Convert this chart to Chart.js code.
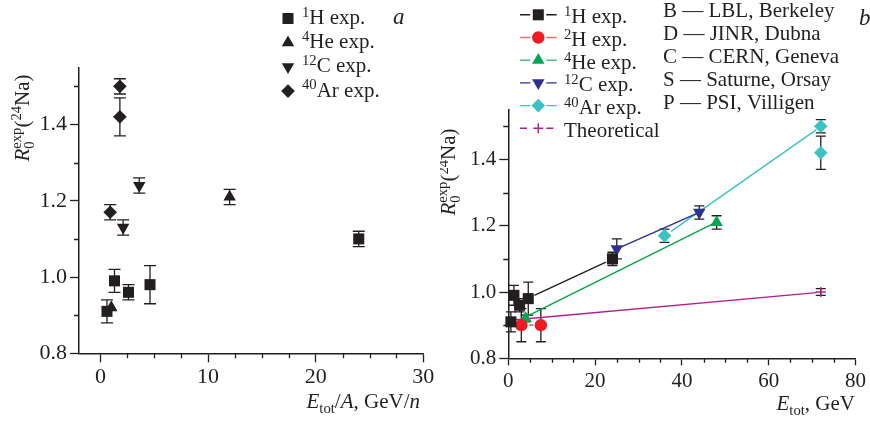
<!DOCTYPE html>
<html>
<head>
<meta charset="utf-8">
<title>R0 exp (24Na)</title>
<script src="https://cdn.jsdelivr.net/npm/chart.js@4.4.1/dist/chart.umd.min.js"></script>
<style>
  html, body { margin: 0; padding: 0; background: #fff; }
  #wrap { position: relative; width: 870px; height: 421px; overflow: hidden; }
  #wrap canvas { position: absolute; top: 0; }
  #chartA { left: 0; }
  #chartB { left: 440px; }
</style>
</head>
<body>
<div id="wrap">
  <canvas id="chartA" width="440" height="421"></canvas>
  <canvas id="chartB" width="430" height="421"></canvas>
</div>
<script>
// ---- panel a: versus energy per nucleon (GeV/n) ----
const hA_x = [0.6, 1.3, 2.6, 4.6, 24];
const hA_y = [0.91, 0.99, 0.96, 0.98, 1.10];
const hA_err = [0.03, 0.03, 0.02, 0.05, 0.02];
const heA_x = [1.0, 12];
const heA_y = [0.92, 1.21];
const heA_err = [0, 0.02];
const cA_x = [2.1, 3.6];
const cA_y = [1.13, 1.24];
const cA_err = [0.02, 0.02];
const arA_x = [0.9, 1.8, 1.8];
const arA_y = [1.17, 1.42, 1.50];
const arA_err = [0.02, 0.05, 0.02];

// ---- panel b: versus total energy (GeV) ----
const hB_x = [0.6, 1.3, 2.6, 4.6, 24];
const hB_y = [0.91, 0.99, 0.96, 0.98, 1.10];
const hB_err = [0.03, 0.03, 0.02, 0.05, 0.02];
const dB_x = [3, 7.5];
const dB_y = [0.90, 0.90];
const dB_err = [0.05, 0.05];
const heB_x = [4, 48];
const heB_y = [0.92, 1.21];
const heB_err = [0.01, 0.02];
const cB_x = [25, 44];
const cB_y = [1.13, 1.24];
const cB_err = [0.03, 0.02];
const arB_x = [36, 72, 72];
const arB_y = [1.17, 1.42, 1.50];
const arB_err = [0.02, 0.05, 0.02];
const thB_x = [0.6, 72];
const thB_y = [0.91, 1.00];
const thB_err = [0, 0.01];

// straight fit lines in panel b (end points)
const fitH_x = [6, 22.5],   fitH_y = [0.99, 1.09];
const fitD_x = [3, 7.5],    fitD_y = [0.90, 0.90];
const fitHe_x = [4.5, 47],  fitHe_y = [0.928, 1.205];
const fitC_x = [25, 44],    fitC_y = [1.13, 1.24];
const fitAr_x = [37.5, 71], fitAr_y = [1.183, 1.49];
const fitTh_x = [0.5, 71],  fitTh_y = [0.915, 0.998];

// axis ticks
const xTicksA = [0, 10, 20, 30];
const xMinorA = [2.5, 5, 7.5, 12.5, 15, 17.5, 22.5, 25, 27.5];
const xTicksB = [0, 20, 40, 60, 80];
const xMinorB = [5, 10, 15, 25, 30, 35, 45, 50, 55, 65, 70, 75];
const yTicks = [0.8, 1.0, 1.2, 1.4];
const yMinor = [0.9, 1.1, 1.3, 1.5];

const INK = '#231f20';
const RED = '#ed1c24', GREEN = '#00a651', BLUE = '#2e3192', CYAN = '#3cc2c2', MAGENTA = '#b01f8c';
const SERIF = '"Liberation Serif", "Times New Roman", serif';

const pts = (xs, ys) => xs.map((x, i) => ({ x: x, y: ys[i] }));

function fontStr(size, italic) {
  return (italic ? 'italic ' : '') + size + 'px ' + SERIF;
}

// text with superscripts / subscripts; parts = [[text, kind], ...]
function richText(ctx, parts, x, y, size, draw) {
  let cx = x;
  ctx.textBaseline = 'alphabetic';
  ctx.textAlign = 'left';
  for (const [t, k] of parts) {
    if (k === 'supsub') {
      ctx.font = fontStr(size * 0.7, false);
      const w1 = ctx.measureText(t[0]).width, w2 = ctx.measureText(t[1]).width;
      if (draw) {
        ctx.fillText(t[0], cx, y - size * 0.36);
        ctx.fillText(t[1], cx, y + size * 0.24);
      }
      cx += Math.max(w1, w2);
    } else {
      const small = (k === 'sup' || k === 'sub');
      ctx.font = fontStr(small ? size * 0.7 : size, k === 'i');
      const dy = k === 'sup' ? -size * 0.34 : (k === 'sub' ? size * 0.24 : 0);
      if (draw) ctx.fillText(t, cx, y + dy);
      cx += ctx.measureText(t).width;
    }
  }
  return cx - x;
}

function marker(ctx, style, x, y, r, color, rot) {
  ctx.save();
  ctx.translate(x, y);
  if (rot) ctx.rotate(rot * Math.PI / 180);
  ctx.fillStyle = color;
  ctx.strokeStyle = color;
  ctx.beginPath();
  if (style === 'rect') {
    const s = Math.SQRT1_2 * r;
    ctx.rect(-s, -s, 2 * s, 2 * s);
    ctx.fill();
  } else if (style === 'triangle') {
    for (let k = 0; k < 3; k++) {
      const a = k * 2 * Math.PI / 3;
      ctx[k ? 'lineTo' : 'moveTo'](Math.sin(a) * r, -Math.cos(a) * r);
    }
    ctx.closePath();
    ctx.fill();
  } else if (style === 'rectRot') {
    ctx.moveTo(0, -r); ctx.lineTo(r, 0); ctx.lineTo(0, r); ctx.lineTo(-r, 0);
    ctx.closePath();
    ctx.fill();
  } else if (style === 'circle') {
    ctx.arc(0, 0, r, 0, 2 * Math.PI);
    ctx.fill();
  } else if (style === 'cross') {
    ctx.lineWidth = 1.5;
    ctx.moveTo(-r, 0); ctx.lineTo(r, 0);
    ctx.moveTo(0, -r); ctx.lineTo(0, r);
    ctx.stroke();
  }
  ctx.restore();
}

// vertical error bars with caps, drawn from dataset.errors
function errorBars(capHalf) {
  return {
    id: 'errorBars',
    beforeDatasetsDraw(chart) {
      const ctx = chart.ctx, xs = chart.scales.x, ys = chart.scales.y;
      ctx.save();
      ctx.strokeStyle = INK;
      ctx.lineWidth = 1.3;
      chart.data.datasets.forEach(ds => {
        if (!ds.errors) return;
        ds.data.forEach((p, i) => {
          const e = ds.errors[i];
          if (!e) return;
          const px = xs.getPixelForValue(p.x);
          const y1 = ys.getPixelForValue(p.y + e);
          const y2 = ys.getPixelForValue(p.y - e);
          ctx.beginPath();
          ctx.moveTo(px, y1); ctx.lineTo(px, y2);
          ctx.moveTo(px - capHalf, y1); ctx.lineTo(px + capHalf, y1);
          ctx.moveTo(px - capHalf, y2); ctx.lineTo(px + capHalf, y2);
          ctx.stroke();
        });
      });
      ctx.restore();
    }
  };
}

// short minor tick marks on both axes
function minorTicks(xMinor, yMinor, xLen, yLen) {
  return {
    id: 'minorTicks',
    afterDraw(chart) {
      const ctx = chart.ctx, xs = chart.scales.x, ys = chart.scales.y;
      const a = chart.chartArea;
      ctx.save();
      ctx.strokeStyle = INK;
      ctx.lineWidth = 1.3;
      ctx.beginPath();
      xMinor.forEach(v => {
        const px = Math.round(xs.getPixelForValue(v)) + 0.5;
        ctx.moveTo(px, a.bottom); ctx.lineTo(px, a.bottom + xLen);
      });
      yMinor.forEach(v => {
        const py = Math.round(ys.getPixelForValue(v)) + 0.5;
        ctx.moveTo(a.left, py); ctx.lineTo(a.left - yLen, py);
      });
      ctx.stroke();
      ctx.restore();
    }
  };
}

// legend, panel letter and axis titles
function labels(cfg) {
  return {
    id: 'labels',
    afterDraw(chart) {
      const ctx = chart.ctx;
      ctx.save();
      ctx.fillStyle = INK;
      cfg.legend.forEach((it, i) => {
        const by = cfg.legendY + i * cfg.legendStep;
        const my = by - cfg.markerDy;
        if (it.line) {
          ctx.save();
          ctx.strokeStyle = it.line;
          ctx.lineWidth = 1.4;
          if (it.dash) ctx.setLineDash(it.dash);
          ctx.beginPath();
          ctx.moveTo(cfg.lineX0, my); ctx.lineTo(cfg.markerX - 8, my);
          ctx.moveTo(cfg.markerX + 8, my); ctx.lineTo(cfg.lineX1, my);
          ctx.stroke();
          ctx.restore();
        }
        marker(ctx, it.style, cfg.markerX, my, it.r, it.color, it.rot);
        ctx.fillStyle = INK;
        richText(ctx, it.label, cfg.textX, by, 21, true);
      });
      (cfg.notes || []).forEach((t, i) => {
        ctx.font = fontStr(21, false);
        ctx.fillText(t, cfg.notesX, cfg.notesY + i * cfg.notesStep);
      });
      ctx.font = fontStr(23, true);
      ctx.fillText(cfg.letter[0], cfg.letter[1], cfg.letter[2]);

      // x title, right aligned
      const xt = cfg.xTitle;
      const w = richText(ctx, xt.parts, 0, 0, xt.size, false);
      richText(ctx, xt.parts, xt.right - w, xt.y, xt.size, true);

      // y title, rotated
      const yt = cfg.yTitle;
      ctx.save();
      ctx.translate(yt.x, yt.cy);
      ctx.rotate(-Math.PI / 2);
      const wy = richText(ctx, yt.parts, 0, 0, yt.size, false);
      richText(ctx, yt.parts, -wy / 2, 0, yt.size, true);
      ctx.restore();
      ctx.restore();
    }
  };
}

function axis(ticks, min, max, fmt, size, fixed, tickLen, pad, isY) {
  return {
    type: 'linear',
    position: isY ? 'left' : 'bottom',
    min: min,
    max: max,
    afterBuildTicks: s => { s.ticks = ticks.map(v => ({ value: v })); },
    afterFit: s => { if (isY) s.width = fixed; else s.height = fixed; },
    grid: { display: true, drawOnChartArea: false, drawTicks: true, tickLength: tickLen, tickColor: INK, tickWidth: 1.3 },
    border: { display: true, color: INK, width: 1.5 },
    ticks: { padding: pad, color: INK, font: { family: SERIF, size: size }, maxRotation: 0, autoSkip: false, callback: fmt }
  };
}

const fmtY = v => v.toFixed(1);
const fmtX = v => String(v);
const yTitleParts = [['R', 'i'], [['exp', '0'], 'supsub'], ['(', 'n'], ['24', 'sup'], ['Na)', 'n']];

function scatterSet(xs, ys, errs, style, r, color, rot) {
  return {
    data: pts(xs, ys), errors: errs, showLine: false, clip: false,
    pointStyle: style, pointRadius: r, pointRotation: rot || 0,
    pointBackgroundColor: color, pointBorderColor: color, pointBorderWidth: style === 'cross' ? 1.5 : 0
  };
}

function fitSet(xs, ys, color, dash) {
  return {
    data: pts(xs, ys), showLine: true, pointRadius: 0, borderColor: color,
    borderWidth: 1.4, borderDash: dash || [], clip: false
  };
}

// ---- panel a ----
new Chart(document.getElementById('chartA'), {
  type: 'scatter',
  data: {
    datasets: [
      scatterSet(hA_x, hA_y, hA_err, 'rect', 7.8, INK),
      scatterSet(heA_x, heA_y, heA_err, 'triangle', 7.2, INK),
      scatterSet(cA_x, cA_y, cA_err, 'triangle', 7.2, INK, 180),
      scatterSet(arA_x, arA_y, arA_err, 'rectRot', 6.8, INK)
    ]
  },
  options: {
    responsive: false, animation: false, events: [],
    layout: { padding: { left: 0, right: 16.7, top: 67.3, bottom: 0 } },
    plugins: { legend: { display: false }, tooltip: { enabled: false } },
    scales: {
      x: axis(xTicksA, -2, 30, fmtX, 22, 67.7, 9, 2, false),
      y: axis(yTicks, 0.8, 1.55, fmtY, 22, 79, 9, 3, true)
    }
  },
  plugins: [
    errorBars(6),
    minorTicks(xMinorA, yMinor, 5, 5),
    labels({
      legend: [
        { style: 'rect', r: 7.8, color: INK, label: [['1', 'sup'], ['H exp.', 'n']] },
        { style: 'triangle', r: 7.2, color: INK, label: [['4', 'sup'], ['He exp.', 'n']] },
        { style: 'triangle', r: 7.2, color: INK, rot: 180, label: [['12', 'sup'], ['C exp.', 'n']] },
        { style: 'rectRot', r: 6.8, color: INK, label: [['40', 'sup'], ['Ar exp.', 'n']] }
      ],
      legendY: 24, legendStep: 24.2, markerDy: 5.5, markerX: 288, textX: 302,
      letter: ['a', 393, 24],
      xTitle: { parts: [['E', 'i'], ['tot', 'sub'], ['/', 'n'], ['A', 'i'], [', GeV/', 'n'], ['n', 'i']], right: 420, y: 408, size: 21 },
      yTitle: { parts: yTitleParts, x: 28.5, cy: 118, size: 21 }
    })
  ]
});

// ---- panel b ----
new Chart(document.getElementById('chartB'), {
  type: 'scatter',
  data: {
    datasets: [
      scatterSet(hB_x, hB_y, hB_err, 'rect', 7.8, INK),
      scatterSet(dB_x, dB_y, dB_err, 'circle', 6.2, RED),
      scatterSet(heB_x, heB_y, heB_err, 'triangle', 7.2, GREEN),
      scatterSet(cB_x, cB_y, cB_err, 'triangle', 7.2, BLUE, 180),
      scatterSet(arB_x, arB_y, arB_err, 'rectRot', 6.8, CYAN),
      scatterSet(thB_x, thB_y, thB_err, 'cross', 5, MAGENTA),
      fitSet(fitH_x, fitH_y, INK),
      fitSet(fitD_x, fitD_y, RED, [4, 4]),
      fitSet(fitHe_x, fitHe_y, GREEN),
      fitSet(fitC_x, fitC_y, BLUE),
      fitSet(fitAr_x, fitAr_y, CYAN),
      fitSet(fitTh_x, fitTh_y, MAGENTA)
    ]
  },
  options: {
    responsive: false, animation: false, events: [],
    layout: { padding: { left: 0, right: 13.3, top: 109.7, bottom: 0 } },
    plugins: { legend: { display: false }, tooltip: { enabled: false } },
    scales: {
      x: axis(xTicksB, 0, 80, fmtX, 21, 62.7, 7, 4, false),
      y: axis(yTicks, 0.8, 1.55, fmtY, 21, 68.3, 9, 3, true)
    }
  },
  plugins: [
    errorBars(5),
    minorTicks(xMinorB, yMinor, 4.5, 5),
    labels({
      legend: [
        { style: 'rect', r: 7.8, color: INK, line: INK, label: [['1', 'sup'], ['H exp.', 'n']] },
        { style: 'circle', r: 6.2, color: RED, line: '#f26c70', label: [['2', 'sup'], ['H exp.', 'n']] },
        { style: 'triangle', r: 7.2, color: GREEN, line: '#4cbf80', label: [['4', 'sup'], ['He exp.', 'n']] },
        { style: 'triangle', r: 7.2, color: BLUE, rot: 180, line: BLUE, label: [['12', 'sup'], ['C exp.', 'n']] },
        { style: 'rectRot', r: 6.8, color: CYAN, line: CYAN, label: [['40', 'sup'], ['Ar exp.', 'n']] },
        { style: 'cross', r: 5, color: MAGENTA, line: MAGENTA, dash: [7, 4], label: [['Theoretical', 'n']] }
      ],
      legendY: 23.3, legendStep: 22.7, markerDy: 8.5, markerX: 98.3, lineX0: 80, lineX1: 116.7, textX: 124,
      notes: ['B \u2014 LBL, Berkeley', 'D \u2014 JINR, Dubna', 'C \u2014 CERN, Geneva', 'S \u2014 Saturne, Orsay', 'P \u2014 PSI, Villigen'],
      notesX: 223, notesY: 16.5, notesStep: 23,
      letter: ['b', 419, 25],
      xTitle: { parts: [['E', 'i'], ['tot', 'sub'], [', GeV', 'n']], right: 415, y: 410, size: 21 },
      yTitle: { parts: yTitleParts, x: 15, cy: 172, size: 21 }
    })
  ]
});
</script>
</body>
</html>
